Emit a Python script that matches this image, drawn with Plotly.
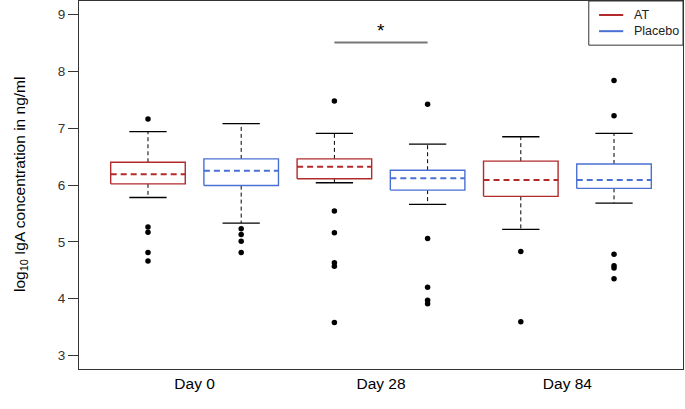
import plotly.graph_objects as go

# ---- data ----
day_labels = ["Day 0", "Day 28", "Day 84"]
groups = ["AT", "Placebo", "AT", "Placebo", "AT", "Placebo"]
positions = [1, 2, 3, 4, 5, 6]
q1 = [6.02, 5.99, 6.11, 5.91, 5.80, 5.94]
median = [6.19, 6.25, 6.32, 6.12, 6.09, 6.09]
q3 = [6.40, 6.46, 6.46, 6.26, 6.42, 6.37]
whisk_low = [5.78, 5.33, 6.04, 5.66, 5.22, 5.68]
whisk_high = [6.94, 7.08, 6.91, 6.72, 6.85, 6.91]
outliers = [
    [7.16, 5.26, 5.17, 4.81, 4.66],
    [5.23, 5.13, 5.01, 4.81],
    [7.48, 5.54, 5.16, 4.63, 4.57, 3.58],
    [7.42, 5.06, 4.20, 3.97, 3.91],
    [4.83, 3.59],
    [7.84, 7.22, 4.78, 4.58, 4.54, 4.35],
]
sig_pair = [3, 4]
sig_level = 8.51
sig_label = "*"
y_ticks = [3, 4, 5, 6, 7, 8, 9]
legend_names = ["AT", "Placebo"]

colors = {"AT": "#B22A2A", "Placebo": "#4A70D4"}
box_half = 0.4
cap_half = 0.2
font = "Liberation Sans, Arial, sans-serif"

fig = go.Figure()
for i, p in enumerate(positions):
    c = colors[groups[i]]
    fig.add_trace(go.Scatter(x=[p, p, None, p, p], y=[q3[i], whisk_high[i], None, q1[i], whisk_low[i]],
                             mode="lines", line=dict(color="black", width=1, dash="4px,3px"),
                             showlegend=False, hoverinfo="skip"))
    fig.add_trace(go.Scatter(x=[p - cap_half, p + cap_half, None, p - cap_half, p + cap_half],
                             y=[whisk_high[i], whisk_high[i], None, whisk_low[i], whisk_low[i]],
                             mode="lines", line=dict(color="black", width=1.3),
                             showlegend=False, hoverinfo="skip"))
    fig.add_trace(go.Scatter(x=[p - box_half, p + box_half, p + box_half, p - box_half, p - box_half],
                             y=[q1[i], q1[i], q3[i], q3[i], q1[i]],
                             mode="lines", line=dict(color=c, width=1.4), fill="toself",
                             fillcolor="white", showlegend=False, hoverinfo="skip"))
    fig.add_trace(go.Scatter(x=[p - box_half, p + box_half], y=[median[i], median[i]],
                             mode="lines", line=dict(color=c, width=2, dash="6px,4px"),
                             showlegend=False, hoverinfo="skip"))
    fig.add_trace(go.Scatter(x=[p] * len(outliers[i]), y=outliers[i], mode="markers",
                             marker=dict(color="black", size=5.5), showlegend=False, hoverinfo="skip"))

# significance bar
fig.add_trace(go.Scatter(x=sig_pair, y=[sig_level, sig_level], mode="lines",
                         line=dict(color="#777777", width=2), showlegend=False, hoverinfo="skip"))
fig.add_annotation(x=sum(sig_pair) / 2, y=sig_level, text=sig_label, showarrow=False,
                   yanchor="bottom", yshift=-1, font=dict(size=19, color="black", family=font))

# manual legend (inside plot, top-right)
fig.add_shape(type="rect", xref="x domain", yref="y domain", x0=0.844, x1=1.0, y0=0.880, y1=1.0,
              line=dict(color="#333333", width=1), fillcolor="white")
leg_y = [0.962, 0.918]
for name, ly in zip(legend_names, leg_y):
    fig.add_shape(type="line", xref="x domain", yref="y domain", x0=0.861, x1=0.901, y0=ly, y1=ly,
                  line=dict(color=colors[name], width=2))
    fig.add_annotation(xref="x domain", yref="y domain", x=0.916, y=ly, text=name, showarrow=False,
                       xanchor="left", yanchor="middle", font=dict(size=12.5, color="#222222", family=font))

# y-axis title
fig.add_annotation(xref="paper", yref="paper", x=0, y=0.5, xshift=-59, textangle=-90,
                   text="log<sub>10</sub> IgA concentration in ng/ml", showarrow=False,
                   xanchor="center", yanchor="middle", font=dict(size=15.5, color="black", family=font))

fig.update_layout(
    width=685, height=409,
    margin=dict(l=79, r=2, t=1, b=40),
    paper_bgcolor="white", plot_bgcolor="white",
    font=dict(family=font, size=13, color="black"),
    showlegend=False,
    xaxis=dict(range=[0.26, 6.74], tickvals=[1.5, 3.5, 5.5], ticktext=day_labels, ticks="",
               showgrid=False, zeroline=False, showline=True, linecolor="#333333", mirror=True,
               tickfont=dict(size=15.5), automargin=False),
    yaxis=dict(range=[2.76, 9.24], tickvals=y_ticks, ticks="outside", ticklen=10, tickcolor="#333333",
               showgrid=False, zeroline=False, showline=True, linecolor="#333333", mirror=True,
               tickfont=dict(size=13.5, color="#333333"), automargin=False),
)
fig.write_html("out.html", config={"displayModeBar": False},
               post_script="document.body.style.margin='0';document.body.style.overflow='hidden';")
